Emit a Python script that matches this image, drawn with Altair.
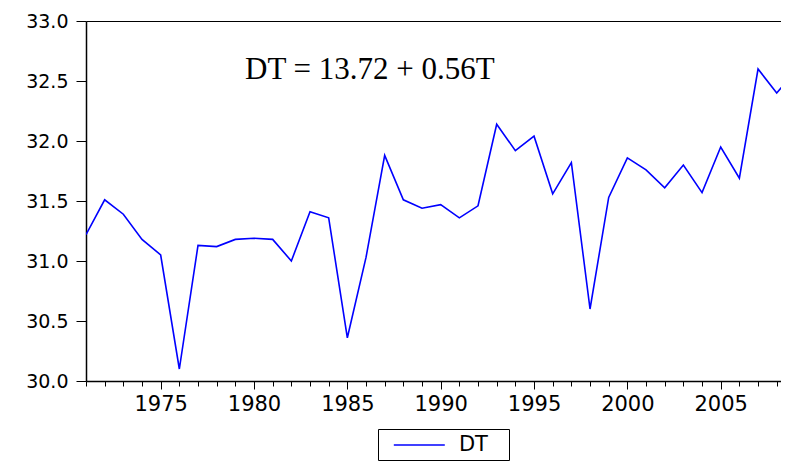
import altair as alt
import pandas as pd

years = list(range(1971, 2010))
dt_values = [31.22, 31.51, 31.39, 31.18, 31.05, 30.10, 31.13, 31.12, 31.18, 31.19,
             31.18, 31.00, 31.41, 31.36, 30.36, 31.03, 31.88, 31.51, 31.44, 31.47,
             31.36, 31.46, 32.14, 31.92, 32.04, 31.56, 31.82, 30.60, 31.53, 31.86,
             31.76, 31.61, 31.80, 31.57, 31.95, 31.69, 32.60, 32.40, 32.58]
series_name = ["DT"]
y_ticks = [30.0, 30.5, 31.0, 31.5, 32.0, 32.5, 33.0]
annotation_text = ["DT = 13.72 + 0.56T"]
annotation_x = [1979.52]
annotation_y = [32.517]

df = pd.DataFrame({"year": years, "value": dt_values, "series": series_name * len(years)})
ann = pd.DataFrame({"x": annotation_x, "y": annotation_y, "label": annotation_text})

xscale = alt.Scale(domain=[1971, 2008.23], nice=False, zero=False)
yscale = alt.Scale(domain=[30, 33], nice=False, zero=False)

x_axis = alt.Axis(values=years, format="d",
                  labelExpr="datum.value % 5 === 0 ? datum.label : ''",
                  labelOverlap=False, labelFlush=False,
                  tickSize={"condition": {"test": "datum.value % 5 === 0", "value": 8}, "value": 5},
                  labelPadding=4, labelFont="DejaVu Sans", labelFontSize=21,
                  labelColor="black", tickColor="black", domainColor="black",
                  domainWidth=1.5, tickWidth=1, grid=False)
top_axis = alt.Axis(orient="top", labels=False, ticks=False, domainColor="black",
                    domainWidth=1.2, grid=False)
y_axis = alt.Axis(values=y_ticks, format=".1f", tickSize=10, labelPadding=8,
                  labelFont="DejaVu Sans", labelFontSize=19, labelColor="black",
                  tickColor="black", domainColor="black", domainWidth=1.5,
                  tickWidth=1, grid=False)

line = alt.Chart(df).mark_line(color="#0000FF", strokeWidth=1.6, clip=True).encode(
    x=alt.X("year:Q", scale=xscale, title=None, axis=x_axis),
    y=alt.Y("value:Q", scale=yscale, title=None, axis=y_axis),
    stroke=alt.Stroke("series:N", scale=alt.Scale(domain=series_name, range=["#0000FF"]),
                      legend=alt.Legend(orient="none", legendX=292, legendY=408, title=None,
                                        strokeColor="black", fillColor="white", padding=5,
                                        symbolType="M-2.5,0H2.5", symbolSize=416,
                                        symbolStrokeWidth=1.5, symbolOffset=25.3,
                                        labelOffset=28.6, labelFont="DejaVu Sans",
                                        labelFontSize=21, labelColor="black",
                                        labelExpr="datum.label + '\u2800'")),
)

text = alt.Chart(ann).mark_text(font="Liberation Serif", fontSize=31, align="left",
                                baseline="alphabetic", color="black").encode(
    x=alt.X("x:Q", scale=xscale, title=None, axis=top_axis),
    y=alt.Y("y:Q", scale=yscale, title=None, axis=y_axis),
    text="label:N",
)

chart = alt.layer(line, text).resolve_axis(x="independent").properties(
    width=695, height=360,
    background="white",
    autosize=alt.AutoSizeParams(type="none"),
    padding={"left": 78, "top": 13, "right": 0, "bottom": 82},
).configure_view(stroke=None)

chart.save("out.html", embed_options={"renderer": "svg", "actions": False})
